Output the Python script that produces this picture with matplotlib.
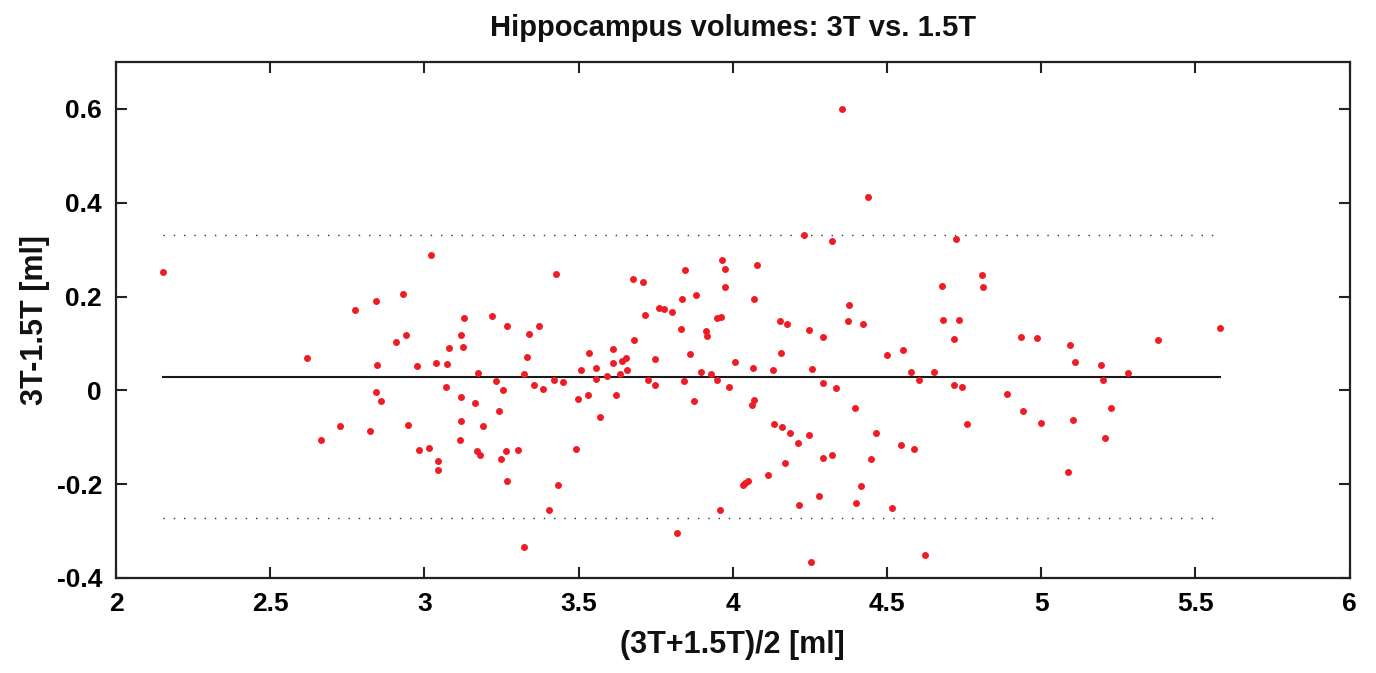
import matplotlib
matplotlib.use("Agg")
import matplotlib.pyplot as plt
import numpy as np

# Bland-Altman: mean of the two measurements vs. their difference
mean_vol = [
    2.151, 2.620, 2.664, 2.727, 2.774, 2.825, 2.843, 2.843, 2.845, 2.860,
    2.909, 2.930, 2.940, 2.948, 2.975, 2.983, 3.014, 3.020, 3.037, 3.044,
    3.044, 3.070, 3.072, 3.080, 3.114, 3.118, 3.118, 3.120, 3.124, 3.128,
    3.165, 3.172, 3.173, 3.180, 3.189, 3.219, 3.231, 3.241, 3.249, 3.255,
    3.264, 3.268, 3.269, 3.302, 3.323, 3.323, 3.333, 3.339, 3.357, 3.373,
    3.384, 3.405, 3.419, 3.427, 3.433, 3.448, 3.491, 3.498, 3.509, 3.531,
    3.534, 3.555, 3.558, 3.571, 3.591, 3.610, 3.611, 3.622, 3.633, 3.641,
    3.655, 3.658, 3.675, 3.680, 3.710, 3.714, 3.726, 3.748, 3.748, 3.761,
    3.776, 3.804, 3.820, 3.831, 3.836, 3.843, 3.846, 3.860, 3.874, 3.882,
    3.897, 3.912, 3.915, 3.929, 3.948, 3.950, 3.960, 3.961, 3.966, 3.974,
    3.976, 3.987, 4.007, 4.032, 4.041, 4.048, 4.062, 4.066, 4.068, 4.070,
    4.080, 4.113, 4.131, 4.133, 4.152, 4.157, 4.159, 4.170, 4.177, 4.187,
    4.211, 4.216, 4.232, 4.246, 4.246, 4.253, 4.257, 4.281, 4.291, 4.291,
    4.293, 4.323, 4.323, 4.334, 4.355, 4.373, 4.377, 4.397, 4.401, 4.415,
    4.421, 4.437, 4.449, 4.463, 4.500, 4.516, 4.545, 4.553, 4.578, 4.586,
    4.603, 4.623, 4.652, 4.678, 4.683, 4.716, 4.718, 4.723, 4.732, 4.743,
    4.761, 4.807, 4.811, 4.890, 4.936, 4.940, 4.987, 5.000, 5.086, 5.094,
    5.102, 5.111, 5.195, 5.200, 5.208, 5.225, 5.283, 5.378, 5.581,
]
diff_vol = [
    0.253, 0.070, -0.105, -0.076, 0.171, -0.087, 0.190, -0.004, 0.054, -0.023,
    0.102, 0.206, 0.118, -0.073, 0.052, -0.127, -0.122, 0.289, 0.058, -0.150,
    -0.170, 0.008, 0.057, 0.091, -0.106, -0.014, -0.065, 0.118, 0.092, 0.154,
    -0.028, -0.130, 0.036, -0.137, -0.075, 0.159, 0.020, -0.043, -0.147, 0.000,
    -0.130, 0.137, -0.193, -0.128, 0.034, -0.334, 0.071, 0.120, 0.011, 0.137,
    0.002, -0.255, 0.021, 0.247, -0.202, 0.017, -0.126, -0.018, 0.043, -0.009,
    0.080, 0.024, 0.047, -0.056, 0.031, 0.058, 0.088, -0.011, 0.034, 0.062,
    0.068, 0.043, 0.237, 0.107, 0.231, 0.161, 0.023, 0.067, 0.011, 0.175,
    0.173, 0.167, -0.305, 0.130, 0.195, 0.020, 0.256, 0.077, -0.022, 0.203,
    0.039, 0.127, 0.115, 0.034, 0.154, 0.023, -0.256, 0.156, 0.277, 0.259,
    0.220, 0.007, 0.060, -0.201, -0.198, -0.193, -0.031, 0.047, -0.021, 0.195,
    0.267, -0.181, 0.043, -0.072, 0.147, 0.080, -0.079, -0.155, 0.141, -0.092,
    -0.113, -0.244, 0.332, 0.129, -0.095, -0.366, 0.046, -0.225, 0.113, 0.015,
    -0.144, 0.318, -0.138, 0.005, 0.600, 0.147, 0.181, -0.038, -0.241, -0.203,
    0.141, 0.412, -0.147, -0.091, 0.075, -0.251, -0.116, 0.086, 0.040, -0.124,
    0.022, -0.352, 0.040, 0.222, 0.149, 0.109, 0.011, 0.323, 0.149, 0.008,
    -0.072, 0.245, 0.220, -0.007, 0.113, -0.045, 0.111, -0.069, -0.175, 0.096,
    -0.063, 0.060, 0.054, 0.023, -0.101, -0.038, 0.037, 0.107, 0.133,
]

bias = 0.029
upper_loa = 0.331
lower_loa = -0.273

plt.rcParams["font.family"] = ["Liberation Sans", "DejaVu Sans"]
plt.rcParams["font.weight"] = "bold"

fig = plt.figure(figsize=(13.76, 6.73), dpi=100)
ax = fig.add_axes([0.0843, 0.1412, 0.8965, 0.7667])

x_lo, x_hi = min(mean_vol), max(mean_vol)
ax.plot([x_lo, x_hi], [bias, bias], color="#1a1a1a", lw=1.5)
for lim in (upper_loa, lower_loa):
    ax.plot([x_lo, x_hi], [lim, lim], color="#333333", lw=1.0,
            linestyle=(0, (1.0, 6.4)))

ax.plot(mean_vol, diff_vol, "o", color="#ee1c25", ms=5, mec="none")

ax.set_xlim(2, 6)
ax.set_ylim(-0.4, 0.7)
ax.set_xticks(np.arange(2, 6.01, 0.5))
ax.set_xticklabels(["2", "2.5", "3", "3.5", "4", "4.5", "5", "5.5", "6"])
ax.set_yticks([-0.4, -0.2, 0, 0.2, 0.4, 0.6])
ax.set_yticklabels(["-0.4", "-0.2", "0", "0.2", "0.4", "0.6"])

ax.tick_params(direction="in", length=8, width=1.5, labelsize=19,
               top=True, right=True, color="#222222", pad=10)
for sp in ax.spines.values():
    sp.set_linewidth(1.6)
    sp.set_color("#222222")

ax.set_title("Hippocampus volumes: 3T vs. 1.5T", fontsize=21,
             fontweight="bold", pad=19, color="#111111")
ax.set_xlabel("(3T+1.5T)/2 [ml]", fontsize=22, fontweight="bold",
              labelpad=10, color="#111111")
ax.set_ylabel("3T-1.5T [ml]", fontsize=22, fontweight="bold",
              labelpad=5, color="#111111")

fig.savefig("out.png", dpi=100)
plt.close(fig)
